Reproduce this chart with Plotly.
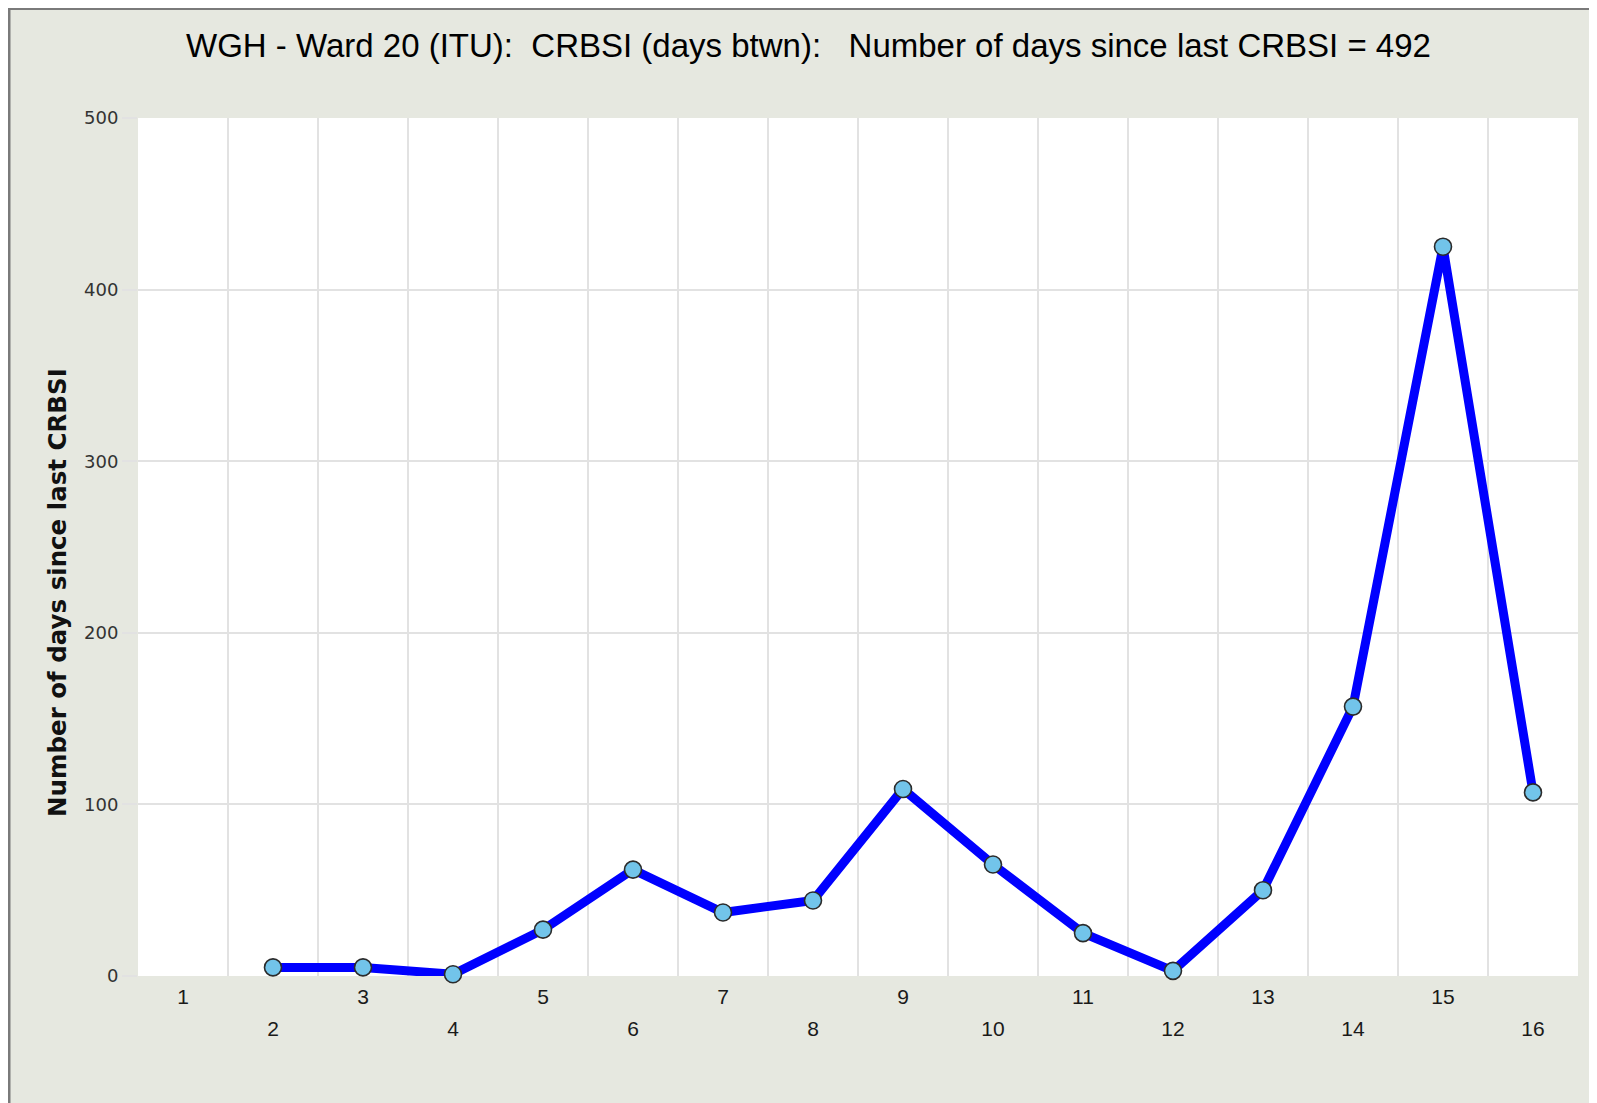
import plotly.graph_objects as go

# ---- data ----
categories = list(range(1, 17))
x_points = [2, 3, 4, 5, 6, 7, 8, 9, 10, 11, 12, 13, 14, 15, 16]
days_between = [5, 5, 1, 27, 62, 37, 44, 109, 65, 25, 3, 50, 157, 425, 107]
y_ticks = [0, 100, 200, 300, 400, 500]
title_text = ("WGH - Ward 20 (ITU):\u00a0 CRBSI (days btwn):\u00a0\u00a0 "
              "Number of days since last CRBSI = 492")
y_title = "Number of days since last CRBSI"

# page has an 8px body margin; figure placed at (8, 8)
OFF = 8
W, H = 1597 - OFF, 1103 - OFF
L, R, T, B = 138 - OFF, 1578 - OFF, 118 - OFF, 976 - OFF


def px(xp):
    return (xp - L) / (R - L)


def py(yp):
    return (B - yp) / (B - T)


odd = [c for c in categories if c % 2 == 1]
even = [c for c in categories if c % 2 == 0]
bounds = [c + 0.5 for c in categories[:-1]]

fig = go.Figure()
fig.add_trace(go.Scatter(
    x=x_points, y=days_between, mode="lines+markers",
    line=dict(color="#0000ff", width=9),
    marker=dict(size=17, color="#72c4ea", line=dict(color="#2b2b2b", width=1.6)),
    showlegend=False, cliponaxis=False,
))

xr = [categories[0] - 0.5, categories[-1] + 0.5]
grid = "#e2e2e2"
tick_font_x = dict(family="Liberation Sans, Arial", size=21, color="#1a1a1a")
fig.update_layout(
    width=W, height=H,
    margin=dict(l=L, r=W - R, t=T, b=H - B, pad=0),
    paper_bgcolor="#e6e8e0",
    plot_bgcolor="#ffffff",
    title=dict(text=title_text, x=(808.5 - OFF) / W, xref="container", xanchor="center",
               y=1 - (45 - OFF) / H, yref="container", yanchor="middle",
               font=dict(family="Liberation Sans, Arial", size=33, color="#000000")),
    xaxis=dict(range=xr, tickmode="array", tickvals=bounds, showticklabels=False,
               showgrid=True, gridcolor=grid, gridwidth=1.5, ticks="", zeroline=False,
               showline=False),
    xaxis2=dict(range=xr, overlaying="x", anchor="y", side="bottom", matches="x",
                tickmode="array", tickvals=odd, ticktext=[str(c) for c in odd],
                showgrid=False, ticks="", zeroline=False, ticklabelstandoff=6,
                tickfont=tick_font_x),
    xaxis3=dict(range=xr, overlaying="x", anchor="y", side="bottom", matches="x",
                tickmode="array", tickvals=even, ticktext=[str(c) for c in even],
                showgrid=False, ticks="", zeroline=False, ticklabelstandoff=38,
                tickfont=tick_font_x),
    yaxis=dict(range=[0, 500], tickmode="array", tickvals=y_ticks,
               showgrid=True, gridcolor=grid, gridwidth=1.5, zeroline=False,
               ticks="outside", ticklen=15, tickcolor=grid, tickwidth=1.5,
               tickfont=dict(family="DejaVu Sans", size=18, color="#333333")),
)
# invisible traces so the overlay label axes render
fig.add_trace(go.Scatter(x=[xr[0]], y=[0], xaxis="x2", mode="markers",
                         marker=dict(opacity=0), showlegend=False, hoverinfo="skip"))
fig.add_trace(go.Scatter(x=[xr[0]], y=[0], xaxis="x3", mode="markers",
                         marker=dict(opacity=0), showlegend=False, hoverinfo="skip"))

fig.add_annotation(text="<b>" + y_title + "</b>", xref="paper", yref="paper",
                   x=px(57 - OFF), y=py(593 - OFF),
                   textangle=-90, showarrow=False, xanchor="center", yanchor="middle",
                   font=dict(family="DejaVu Sans", size=24.5, color="#111111"))

# outer frame border (left and top edges)
shapes = [
    dict(type="line", xref="paper", yref="paper", x0=px(1), x1=px(1), y0=py(0), y1=py(H + 50),
         line=dict(color="#7a7a7a", width=3), layer="above"),
    dict(type="line", xref="paper", yref="paper", x0=px(0), x1=px(W + 50), y0=py(0.5), y1=py(0.5),
         line=dict(color="#7a7a7a", width=3), layer="above"),
]
fig.update_layout(shapes=shapes)

fig.write_html("out.html")
